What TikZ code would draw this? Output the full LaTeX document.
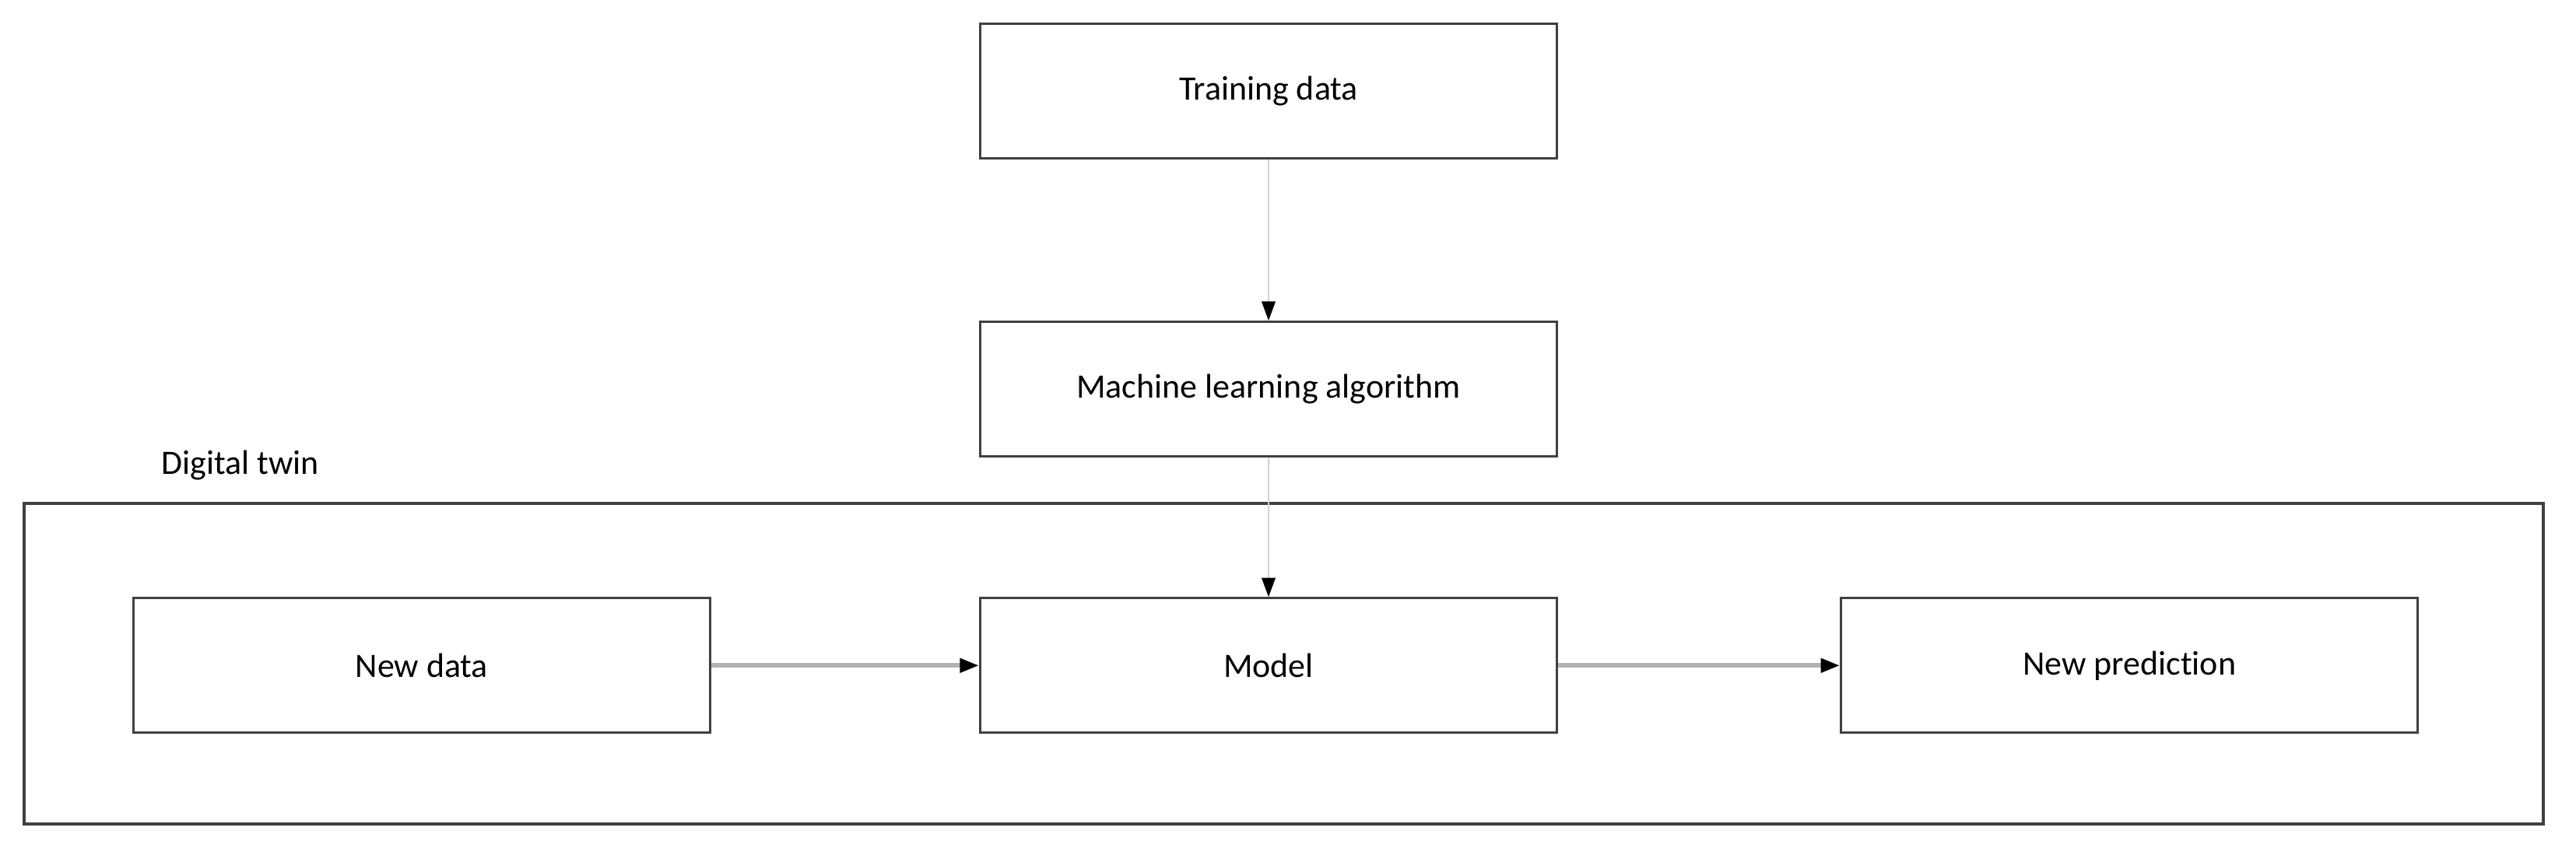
\documentclass[tikz,border=0pt]{standalone}
\usepackage{fontspec}
\setmainfont[Ligatures=NoCommon]{Carlito}
\usetikzlibrary{positioning,arrows.meta}
\tikzset{
block/.style = {draw = black!75, line width = 0.9pt, minimum width = 7.41cm, minimum height = 1.73cm, inner sep = 0pt, font = \fontsize{12.5}{15}\selectfont},
vflow/.style = {draw = black!18, line width = 0.6pt, -{Triangle[black, length = 7pt, width = 5pt]}},
hflow/.style = {draw = black!30, line width = 1.6pt, -{Triangle[black, length = 7pt, width = 5pt]}}
}
\begin{document}
\begin{tikzpicture}
\useasboundingbox (0,0) rectangle (33.1,10.95);
\node[block] (train) at (16.3,9.78) {Training data};
\node[block, below = 2.07cm of train] (algo) {Machine learning algorithm};
\node[block, below = 1.79cm of algo] (model) {Model};
\node[block, left = 3.44cm of model] (newdata) {New data};
\node[block, right = 3.62cm of model] (pred) {New prediction};
% digital twin frame
\draw[draw = black!75, line width = 0.9pt] (0.31,0.36) rectangle (32.68,4.48);
\node[anchor = base west, inner sep = 0pt, font = \fontsize{12.5}{15}\selectfont] (twin) at (2.07,4.85) {Digital twin};
\draw[vflow] (train) -- (algo);
\draw[vflow] (algo) -- (model);
\draw[hflow] (newdata) -- (model);
\draw[hflow] (model) -- (pred);
\end{tikzpicture}
\end{document}
